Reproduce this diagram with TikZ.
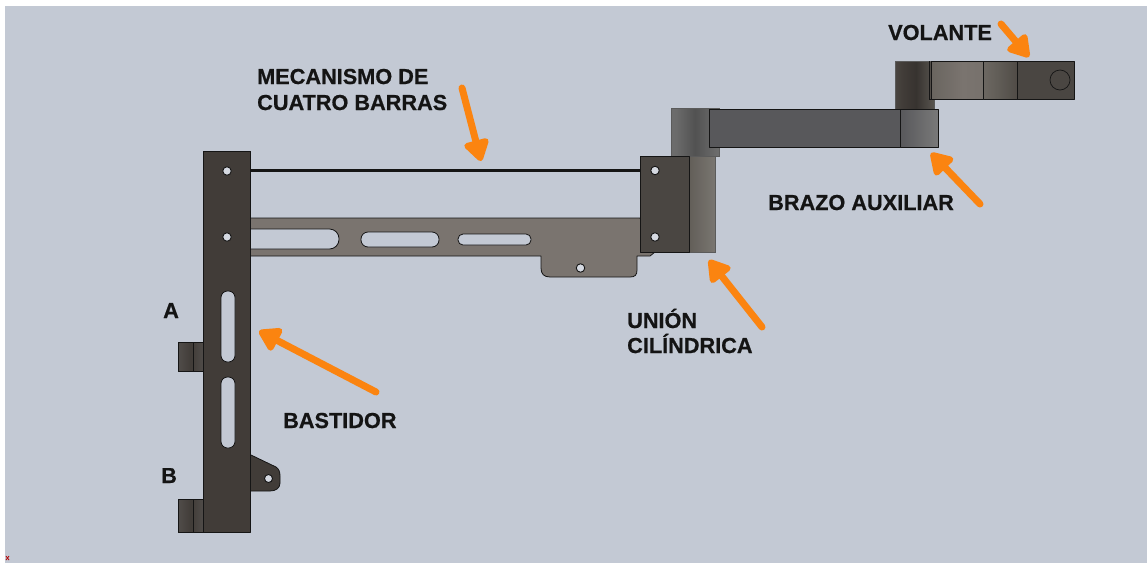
\documentclass[tikz,border=0pt]{standalone}
\usepackage{fontspec}
\setmainfont[BoldFeatures={FakeBold=0.7}]{Liberation Sans}
\usetikzlibrary{arrows.meta}
\definecolor{bgc}{HTML}{C3C9D4}
\definecolor{holec}{HTML}{D5D9E1}
\definecolor{framec}{HTML}{413C38}
\definecolor{barc}{HTML}{7A746F}
\definecolor{blockc}{HTML}{625E58}
\definecolor{armc}{HTML}{58585B}
\definecolor{orangec}{HTML}{FB8410}
\definecolor{edgec}{HTML}{151515}
\pgfdeclarehorizontalshading{elbowshade}{100bp}{
  color(0bp)=(black!55!white); color(30bp)=(black!58!white); color(50bp)=(black!68!white);
  color(72bp)=(black!58!white); color(100bp)=(black!52!white)}
\pgfdeclarehorizontalshading{postshade}{100bp}{
  color(0bp)=(blockc); color(35bp)=(framec); color(52bp)=(framec!85!black); color(75bp)=(blockc!90!black); color(100bp)=(blockc)}
\pgfdeclarehorizontalshading{segone}{100bp}{
  color(0bp)=(blockc); color(25bp)=(blockc!70!barc); color(55bp)=(barc); color(100bp)=(barc!95!black)}
\pgfdeclarehorizontalshading{segtwo}{100bp}{
  color(0bp)=(barc); color(45bp)=(blockc); color(100bp)=(framec)}
\tikzset{
  part/.style={draw=edgec,line width=0.8pt,line join=round},
  softpart/.style={draw=edgec!70,line width=0.6pt},
  hole/.style={draw=edgec,line width=0.9pt,fill=holec,circle,minimum size=8.5pt,inner sep=0pt},
  label/.style={anchor=base west,inner sep=0pt,font=\fontsize{21.7}{25.5}\selectfont\bfseries,text=black!92},
  pointer/.style={draw=orangec,line width=7pt,line cap=round,
    -{Triangle[width=28pt,length=24pt,round,fill=orangec]}},
}
\begin{document}
\begin{tikzpicture}[x=1pt,y=-1pt]
\useasboundingbox (0,0) rectangle (1147,563);
\fill[white] (0,0) rectangle (1147,563);
\fill[bgc] (5,6) rectangle (1147,563);
% axis remnant
\draw[red!70!black,line width=0.8pt] (6,560) -- (9,556);
\draw[red!70!black,line width=0.8pt] (6,556) -- (9,560);
% lower bar
\draw[part,fill=barc] (245,218) -- (640,218) -- (661,252) -- (655,252) -- (650,256) -- (637,256) -- (637,270)
  .. controls (637,275) and (635,277) .. (630,277) -- (550,277)
  .. controls (544,277) and (541,274) .. (541,268) -- (541,256) -- (245,256) -- cycle;
\fill[barc] (630,219) rectangle (662,251);
\draw[part,fill=bgc,rounded corners=9.5pt] (240,229) -- (339,229) -- (339,249) -- (240,249) -- cycle;
\draw[part,fill=bgc,rounded corners=7pt] (361,232) rectangle (439,247);
\draw[part,fill=bgc,rounded corners=5pt] (458,234) rectangle (531,245);
\node[hole] (h5) at (580.5,268) {};
% rod
\draw[edgec,line width=3.8pt] (245,170.5) -- (645,170.5);
% tabs on the frame
\shade[part,left color=framec!75!gray,right color=framec!75!gray,middle color=framec] (178,342) rectangle (204,371);
\draw[edgec,line width=0.5pt] (193,342) -- (193,371);
\shade[part,left color=framec!75!gray,right color=framec!75!gray,middle color=framec] (178,499) rectangle (204,532);
\draw[edgec,line width=0.5pt] (193,499) -- (193,532);
% side lug
\draw[part,fill=framec] (245,453) -- (251,455) -- (276,467) .. controls (279,469) and (280,472) .. (280,476)
  -- (280,483) .. controls (280,488) and (276,491) .. (270,491) -- (245,491) -- cycle;
\node[hole,minimum size=8pt] (h4) at (268.5,478.5) {};
% frame
\draw[part,fill=framec] (203,151) rectangle (250.5,532);
\draw[part,fill=bgc,rounded corners=6.5pt] (221,291) rectangle (235,362);
\draw[part,fill=bgc,rounded corners=6.5pt] (221,377) rectangle (235,448);
\node[hole] (h1) at (227,171) {};
\node[hole] (h2) at (227,237) {};
% first elbow
\shade[shading=elbowshade,softpart] (671,108) rectangle (719,156);
\shade[left color=blockc,right color=blockc!85!white,softpart] (689,156) rectangle (715,252);
\draw[part,fill=framec!95!white] (640,156) rectangle (689,252);
\node[hole] (h6) at (655,170.5) {};
\node[hole] (h7) at (655,237) {};
% upper cylinder and steering piece
\shade[shading=postshade,softpart] (895,61) rectangle (934,109);
\shade[shading=segone,part] (931,61) rectangle (983,99);
\draw[edgec,line width=0.7pt] (929,61) -- (929,99) -- (932,99);
\shade[shading=segtwo,part] (983,61) rectangle (1017,99);
\draw[part,fill=framec!95!white] (1017,61) rectangle (1074,99);
\node[draw=edgec,line width=0.7pt,fill=framec!95!white,circle,minimum size=20pt,inner sep=0pt] (wheelc) at (1060,80) {};
% auxiliary arm
\draw[part,fill=armc] (709,109) rectangle (900,147);
\shade[left color=armc,right color=gray!95!black,part] (900,109) rectangle (938,147);
% labels
\node[label] (t1) at (257,84) {MECANISMO DE};
\node[label] (t2) at (257,110) {CUATRO BARRAS};
\node[label] (t3) at (888,40) {VOLANTE};
\node[label] (t4) at (768,210) {BRAZO AUXILIAR};
\node[label] (t5) at (627,328) {UNIÓN};
\node[label] (t6) at (627,353) {CILÍNDRICA};
\node[label] (t7) at (283,428) {BASTIDOR};
\node[label] (t8) at (163,318) {A};
\node[label] (t9) at (161,483) {B};
% pointers
\coordinate (a1s) at (462,88); \coordinate (a1e) at (481,161);
\coordinate (a2s) at (376,392); \coordinate (a2e) at (259,331);
\coordinate (a3s) at (762,327); \coordinate (a3e) at (709,260);
\coordinate (a4s) at (980,204); \coordinate (a4e) at (931,153);
\coordinate (a5s) at (1001,24); \coordinate (a5e) at (1029,57);
\draw[pointer] (a1s) -- (a1e);
\draw[pointer] (a2s) -- (a2e);
\draw[pointer] (a3s) -- (a3e);
\draw[pointer] (a4s) -- (a4e);
\draw[pointer] (a5s) -- (a5e);
\end{tikzpicture}
\end{document}
